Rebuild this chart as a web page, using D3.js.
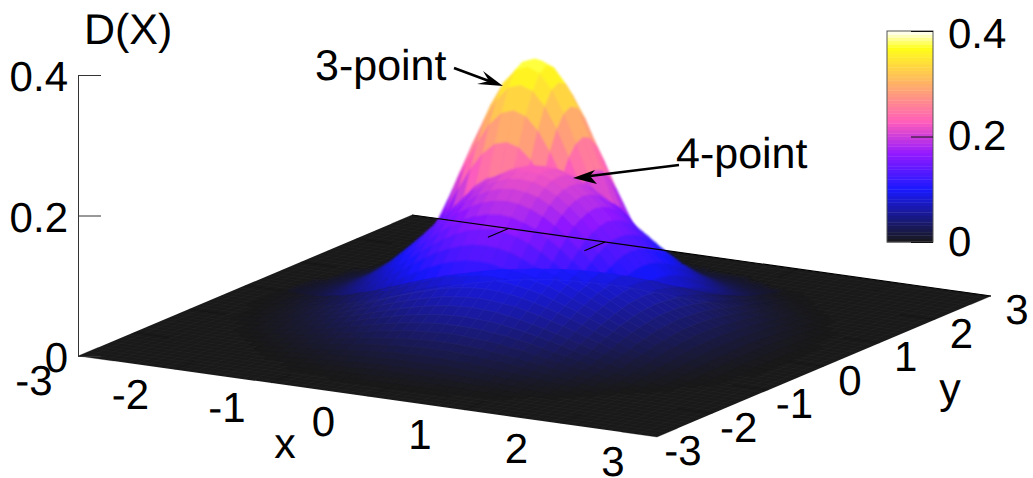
<!DOCTYPE html>
<html>
<head>
<meta charset="utf-8">
<script src="https://cdn.jsdelivr.net/npm/d3@7"></script>
<style>
	html, body { margin: 0; padding: 0; background: #fff; }
	svg { display: block; }
	text { font-family: "Liberation Sans", Arial, sans-serif; font-size: 42px; fill: #000; text-rendering: geometricPrecision; }
	.word { font-size: 43px; }
</style>
</head>
<body>
<script>
// Tick values and labels
var xyTicks = [-3, -2, -1, 0, 1, 2, 3];
var zTicks = [0, 0.2, 0.4];
var annotations = ["3-point", "4-point"];

// Grid of the surfaces, steps along |x| and |y|
var gridAxis = [0, 0.125, 0.25, 0.375, 0.5, 0.625, 0.75, 0.875, 1, 1.125, 1.25, 1.375, 1.5,
	1.625, 1.75, 1.875, 2, 2.125, 2.25, 2.375, 2.5, 2.625, 2.75, 2.875, 3];

// Heights, in thousandths of D(X).
// The hills are symmetric so a row i only holds j <= i, what is left out is 0.
var surface3point = [
	[380],
	[373,366],
	[351,345,325],
	[319,313,295,267],
	[278,273,257,233,203],
	[233,229,216,196,171,143],
	[188,184,174,158,138,115,93],
	[146,143,135,122,107,90,72,56],
	[109,107,101,91,80,67,54,42,31],
	[78,77,72,66,57,48,39,30,22,16],
	[54,53,50,45,39,33,27,21,15,11,8],
	[36,35,33,30,26,22,18,14,10,7,5,3],
	[23,22,21,19,17,14,11,9,7,5,3,2,1],
	[14,14,13,12,10,9,7,5,4,3,2,1,1,1],
	[8,8,8,7,6,5,4,3,2,2,1,1],
	[5,5,4,4,3,3,2,2,1,1,1],
	[3,2,2,2,2,2,1,1,1,1],
	[1,1,1,1,1,1,1],
	[1,1,1,1]
];

var surface4point = [
	[225],
	[223,221],
	[217,215,209],
	[207,205,200,191],
	[194,192,187,179,168],
	[179,177,172,165,154,142],
	[162,160,156,149,139,128,116],
	[143,142,138,132,124,114,103,91],
	[125,124,120,115,108,99,90,80,69],
	[107,106,103,98,92,85,77,68,59,51],
	[90,89,87,83,78,71,65,57,50,43,36],
	[74,73,71,68,64,59,53,47,41,35,30,24],
	[60,59,58,55,52,48,43,38,33,28,24,20,16],
	[48,47,46,44,41,38,34,30,26,23,19,16,13,10],
	[37,37,36,34,32,29,27,24,21,18,15,12,10,8,6],
	[29,28,27,26,25,23,20,18,16,14,11,9,8,6,5,4],
	[21,21,21,20,18,17,15,14,12,10,9,7,6,5,4,3,2],
	[16,16,15,15,14,13,11,10,9,8,6,5,4,3,3,2,2,1],
	[12,11,11,11,10,9,8,7,6,5,5,4,3,2,2,1,1,1,1],
	[8,8,8,7,7,6,6,5,4,4,3,3,2,2,1,1,1,1],
	[6,6,5,5,5,5,4,4,3,3,2,2,2,1,1,1,1],
	[4,4,4,4,3,3,3,2,2,2,2,1,1,1,1],
	[3,3,3,2,2,2,2,2,1,1,1,1,1],
	[2,2,2,2,1,1,1,1,1,1,1],
	[1,1,1,1,1,1,1,1]
];

// two lower unlabelled surfaces, only the part in front of the hills shows
var surfaceLow1 = [
	[124],
	[123,122],
	[121,120,117],
	[116,116,112,108],
	[110,109,107,103,98],
	[103,102,100,96,91,85],
	[95,94,91,88,84,78,72],
	[86,85,83,80,76,71,65,59],
	[77,76,74,72,67,63,58,53,46],
	[67,66,65,62,59,55,51,45,40,35],
	[58,57,56,54,51,47,43,39,35,30,25],
	[48,48,47,45,43,40,37,33,28,25,21,17],
	[41,40,39,38,36,33,31,26,23,20,17,14,11],
	[33,33,32,31,29,26,24,21,19,16,13,11,8,6],
	[26,26,25,24,22,21,19,17,15,12,10,8,6,3,2],
	[20,20,19,19,17,16,14,13,11,9,7,6,3,2],
	[15,15,15,14,13,12,11,9,8,6,4,3,1],
	[11,11,10,10,9,8,7,6,4,3,2,1],
	[7,7,7,7,6,4,4,3,2,1],
	[4,4,3,3,3,2,2,1,1],
	[2,2,1,1,1]
];

var surfaceLow2 = [
	[118],
	[117,116],
	[115,114,111],
	[110,110,107,103],
	[105,104,102,98,93],
	[98,97,95,91,87,81],
	[90,89,87,84,80,74,68],
	[82,81,79,76,72,67,62,56],
	[73,72,70,68,64,60,55,50,44],
	[64,63,62,59,56,52,48,43,38,33],
	[55,54,53,51,48,45,41,37,33,28,24],
	[46,46,45,43,41,38,35,31,27,24,20,16],
	[39,38,37,36,34,31,29,25,22,19,16,13,10],
	[31,31,30,29,27,25,23,20,18,15,12,10,7,5],
	[25,25,24,23,21,20,18,16,14,11,9,7,5,3,2],
	[19,19,18,18,16,15,13,12,10,8,6,5,3,2],
	[14,14,14,13,12,11,10,8,7,5,4,3,1],
	[10,10,9,9,8,7,6,5,4,3,2,1],
	[6,6,6,6,5,4,4,3,2,1],
	[4,3,3,3,2,2,1,1],
	[1,1,1,1]
];

var mySVG = d3.select("body")
				.append("svg")
				.attr("width", 1033)
				.attr("height", 478);

// Softens the facets of the two hills
mySVG.append("defs").append("filter")
	.attr("id", "soft")
	.attr("filterUnits", "userSpaceOnUse")
	.attr("x", 0).attr("y", 0).attr("width", 1033).attr("height", 478)
	.append("feGaussianBlur")
	.attr("stdDeviation", 0.8);

// The view: every axis adds its own screen offset to the (x=-3, y=-3, z=0) corner
var xToLeft = d3.scaleLinear().domain([-3, 3]).range([0, 579]);
var xToTop = d3.scaleLinear().domain([-3, 3]).range([0, 81]);
var yToLeft = d3.scaleLinear().domain([-3, 3]).range([0, 334]);
var yToTop = d3.scaleLinear().domain([-3, 3]).range([0, -141]);
var zToTop = d3.scaleLinear().domain([0, 0.4]).range([356, 75]);

function project(x, y, z){
	return [78 + xToLeft(x) + yToLeft(y), xToTop(x) + yToTop(y) + zToTop(z)];
}

// gnuplot palette rgbformulae 30,31,32
var gray = d3.scaleLinear().domain([0, 0.4]).range([0, 1]).clamp(true);
var clip = d3.scaleLinear().domain([0, 1]).range([0, 1]).clamp(true);
function palette(v){
	var g = gray(v);
	var r = clip(g / 0.32 - 0.78125);
	var gr = clip(2 * g - 0.84);
	var b = g < 0.25 ? 4 * g : g < 0.42 ? 1 : g < 0.92 ? -2 * g + 1.84 : clip(g / 0.08 - 11.5);
	// the thin white seams of the original lift the dark end a little
	return d3.rgb(r * 230 + 25, gr * 230 + 25, b * 230 + 25).formatHex();
}

// Full grid coordinates, negative side mirrors the stored part
var coords = gridAxis.slice(1).reverse().map(d => -d).concat(gridAxis);
function height(surface, x, y){
	var i = gridAxis.indexOf(Math.abs(x)), j = gridAxis.indexOf(Math.abs(y));
	var row = surface[Math.max(i, j)] || [];
	return (row[Math.min(i, j)] || 0) / 1000;
}

// The lower surfaces stop at a curved edge across the hills
function edgeOf(front, bend){
	return function(p){
		var forward = (xToTop(p[0]) - xToTop(0) + yToTop(p[1]) - yToTop(0)) / 27.1;
		var side = (xToLeft(p[0]) - xToLeft(0) + yToLeft(p[1]) - yToLeft(0)) / 147;
		return forward - front + bend * side * side;
	};
}

function keepPart(corners, edge){
	var out = [];
	corners.forEach(function(p, k){
		var q = corners[(k + 1) % corners.length];
		var fp = edge(p), fq = edge(q);
		if(fp >= 0) out.push(p);
		if((fp >= 0) !== (fq >= 0)){
			out.push(Array.from(d3.interpolateNumberArray(p, q)(fp / (fp - fq))));
		}
	});
	return out;
}

// Cells of one surface, back to front
function cellsOf(surface, edge, minZ){
	var cells = [];
	d3.range(coords.length - 1).forEach(function(i){
		d3.range(coords.length - 1).forEach(function(j){
			var corners = [[i, j], [i + 1, j], [i + 1, j + 1], [i, j + 1]].map(function(c){
				var x = coords[c[0]], y = coords[c[1]];
				return [x, y, height(surface, x, y)];
			});
			var z = d3.mean(corners, d => d[2]);
			if(edge) corners = keepPart(corners, edge);
			if(z > minZ && corners.length > 2){
				cells.push({
					corners: corners,
					z: z,
					depth: xToTop(coords[i]) + yToTop(coords[j])
				});
			}
		});
	});
	return cells.sort((a, b) => d3.ascending(a.depth, b.depth));
}

// Floor with its fine mesh
var floorCorners = [[-3, -3], [3, -3], [3, 3], [-3, 3]];
mySVG.append("path")
	.attr("d", d3.line()(floorCorners.map(d => project(d[0], d[1], 0))) + "Z")
	.attr("fill", palette(0));

var meshSteps = d3.range(0, 61).map(d => -3 + d * 0.1);
var meshLines = meshSteps.map(t => [[t, -3], [t, 3]]).concat(meshSteps.map(t => [[-3, t], [3, t]]));
mySVG.append("g").selectAll("line")
	.data(meshLines)
	.join("line")
	.attr("x1", d => project(d[0][0], d[0][1], 0)[0])
	.attr("y1", d => project(d[0][0], d[0][1], 0)[1])
	.attr("x2", d => project(d[1][0], d[1][1], 0)[0])
	.attr("y2", d => project(d[1][0], d[1][1], 0)[1])
	.attr("stroke", "#fff")
	.attr("stroke-opacity", 0.05)
	.attr("stroke-width", 0.5);

// Surfaces, each one painted over the one before
function drawSurface(surface, edge, seam, filter, minZ){
	mySVG.append("g")
		.attr("filter", filter)
		.selectAll("path")
		.data(cellsOf(surface, edge, minZ))
		.join("path")
		.attr("d", d => d3.line()(d.corners.map(c => project(c[0], c[1], c[2]))) + "Z")
		.attr("fill", d => palette(d.z))
		.attr("stroke", d => d3.interpolateRgb(palette(d.z), "#fff")(seam * Math.min(1, d.z / 0.05)))
		.attr("stroke-width", 0.5);
}
drawSurface(surface3point, null, 0, "url(#soft)", 0.006);
drawSurface(surface4point, null, 0, "url(#soft)", 0.006);
drawSurface(surfaceLow1, edgeOf(0.6, 0.65), 0, null, 0);
drawSurface(surfaceLow2, edgeOf(0.7, 0.48), 0.07, null, 0);

// Back edge of the floor and the ticks of the box go on top
var tickLen = 0.37;
var faintSegs = [], boldSegs = [[[-3, 3], [3, 3]]];
xyTicks.forEach(function(t){
	(t === -2 || t === -1 ? boldSegs : faintSegs).push([[t, 3], [t, 3 - tickLen]]);
	faintSegs.push([[t, -3], [t, -3 + tickLen]]);
	faintSegs.push([[3, t], [3 - tickLen, t]]);
	faintSegs.push([[-3, t], [-3 + tickLen, t]]);
});
function drawSegs(segs, opacity, width){
	mySVG.append("g").selectAll("line")
		.data(segs)
		.join("line")
		.attr("x1", d => project(d[0][0], d[0][1], 0)[0])
		.attr("y1", d => project(d[0][0], d[0][1], 0)[1])
		.attr("x2", d => project(d[1][0], d[1][1], 0)[0])
		.attr("y2", d => project(d[1][0], d[1][1], 0)[1])
		.attr("stroke", "#000")
		.attr("stroke-opacity", opacity)
		.attr("stroke-width", width);
}
drawSegs(faintSegs, 0.35, 0.8);
drawSegs(boldSegs, 1, 1.2);

// x and y tick labels follow the floor edges
mySVG.append("g").selectAll("text")
	.data(xyTicks)
	.join("text")
	.attr("text-anchor", "middle")
	.attr("x", d => project(d, -3, 0)[0] - 44)
	.attr("y", d => project(d, -3, 0)[1] + 39)
	.text(d => d);

mySVG.append("g").selectAll("text")
	.data(xyTicks)
	.join("text")
	.attr("text-anchor", "middle")
	.attr("x", d => project(3, d, 0)[0] + 26)
	.attr("y", d => project(3, d, 0)[1] + 28)
	.text(d => d);

// z axis
var zAxis = mySVG.append("g")
	.attr("transform", "translate(78,0)")
	.call(d3.axisLeft(zToTop).tickValues(zTicks).tickFormat(d3.format("~g")).tickSizeInner(-23).tickSizeOuter(0).tickPadding(10));
zAxis.selectAll("text").attr("dy", "0.37em").style("font-size", "42px").style("font-family", "Liberation Sans");
zAxis.selectAll("path,line").attr("stroke", "#333");

// Colour box
var cbScale = d3.scaleLinear().domain([0, 0.4]).range([242, 31]);
var cbLevels = d3.range(0, 0.4, 0.4 / 64);
mySVG.append("g").selectAll("rect")
	.data(cbLevels)
	.join("rect")
	.attr("x", 887)
	.attr("width", 46)
	.attr("y", d => cbScale(d + 0.4 / 64))
	.attr("height", d => cbScale(d) - cbScale(d + 0.4 / 64) + 0.4)
	.attr("fill", d => palette(d + 0.2 / 64));
mySVG.append("rect")
	.attr("x", 887).attr("y", 31).attr("width", 46).attr("height", 211)
	.attr("fill", "none").attr("stroke", "#555").attr("stroke-width", 1);
var cbAxis = mySVG.append("g")
	.attr("transform", "translate(933,0)")
	.call(d3.axisRight(cbScale).tickValues(zTicks).tickFormat(d3.format("~g")).tickSizeInner(-22).tickSizeOuter(0).tickPadding(15));
cbAxis.select("path").remove();
cbAxis.selectAll("text").attr("dy", d => d === 0.4 ? "0.39em" : "0.32em").style("font-size", "42px").style("font-family", "Liberation Sans");
cbAxis.selectAll("line").attr("stroke", "#111");

// Labels
mySVG.append("text").attr("class", "word").attr("x", 84).attr("y", 44).text("D(X)");
mySVG.append("text").attr("class", "word").attr("x", 285).attr("y", 458).attr("text-anchor", "middle").text("x");
mySVG.append("text").attr("class", "word").attr("x", 950).attr("y", 403).attr("text-anchor", "middle").text("y");
mySVG.append("text").attr("class", "word").attr("x", 315).attr("y", 80).text(annotations[0]);
mySVG.append("text").attr("class", "word").attr("x", 676).attr("y", 168).text(annotations[1]);

// Arrows from the labels onto the surfaces
function arrow(from, to, barbA, barbB, notch){
	mySVG.append("line")
		.attr("x1", from[0]).attr("y1", from[1])
		.attr("x2", notch[0]).attr("y2", notch[1])
		.attr("stroke", "#000").attr("stroke-width", 2.5);
	mySVG.append("path")
		.attr("d", d3.line()([barbA, to, barbB, notch]) + "Z")
		.attr("fill", "#000");
}
arrow([454, 68], [503, 86], [483, 71], [477, 84], [489, 81]);
arrow([679, 165], [573, 178], [595, 170], [597, 184], [590, 176]);
</script>
</body>
</html>
